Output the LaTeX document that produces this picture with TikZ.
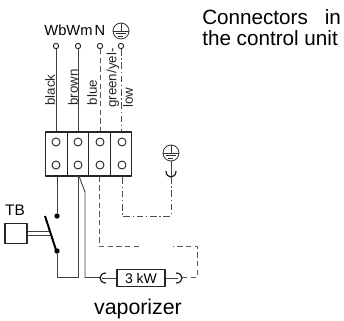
\documentclass[tikz,border=0pt]{standalone}
\usepackage{fontspec}
\setmainfont{Liberation Sans}
\tikzset{
	wire/.style={line width=0.7pt, draw=black!75},
	dashwire/.style={wire, draw=black!65, dash pattern=on 4pt off 2.5pt},
	dashdotwire/.style={wire, draw=black!70, dash pattern=on 5pt off 2pt on 1pt off 2pt},
	hook/.style={line width=0.9pt, draw=black!90},
	pin/.style={circle, draw=black!85, line width=0.7pt, fill=white, minimum size=4pt, inner sep=0pt},
	lug/.style={circle, draw=black!85, line width=0.7pt, fill=white, minimum size=6pt, inner sep=0pt},
	dot/.style={circle, fill=black, minimum size=4pt, inner sep=0pt},
	termbox/.style={draw=black!85, line width=0.8pt, minimum width=16.125pt, minimum height=33pt, inner sep=0pt},
	wirelabel/.style={rotate=90, anchor=west, font=\fontsize{10}{11}\selectfont, inner sep=0pt, text=black!85},
	earthsign/.pic={
		\draw[line width=0.6pt, black!80] (0,0) circle (8);
		\draw[line width=0.6pt, black!80] (0,-8)--(0,0) (-8,0)--(8,0) (-5,2.5)--(5,2.5) (-2.5,5)--(2.5,5);
	}
}
\begin{document}
\begin{tikzpicture}[x=0.75pt,y=-0.75pt, line join=round]
	\useasboundingbox (0,0) rectangle (344,321);
	% pins on top
	\node[pin] (p1) at (56,46) {};
	\node[pin] (p2) at (78,46) {};
	\node[pin] (p3) at (100,46) {};
	\node[pin] (p4) at (121,46) {};
	% terminal block
	\node[termbox] (t1) at (56.5,154) {};
	\node[termbox] (t2) at (78,154) {};
	\node[termbox] (t3) at (99.5,154) {};
	\node[termbox] (t4) at (121,154) {};
	\foreach \n/\x in {1/56,2/78,3/100,4/122}{
		\node[lug] (a\n) at (\x,142) {};
		\node[lug] (b\n) at (\x,165) {};
	}
	% wires to pins
	\draw[wire] (p1)--(p1|-t1.north);
	\draw[wire] (p2)--(p2|-t2.north);
	\draw[dashwire] (p3)--(p3|-t3.north);
	\draw[dashdotwire] (p4)--(p4|-t4.north);
	% labels
	\node[font=\fontsize{11}{12}\selectfont, inner sep=0pt, anchor=base] (wb) at (68.5,36) {WbWm};
	\node[font=\fontsize{11}{12}\selectfont, inner sep=0pt, anchor=base] (nn) at (100,36) {N};
	\pic at (121,31) {earthsign};
	\node[wirelabel] (lblack) at (50,106) {black};
	\node[wirelabel] (lbrown) at (73,106) {brown};
	\node[wirelabel] (lblue) at (92,105.5) {blue};
	\node[wirelabel] (lgreen) at (113,108) {green/yel-};
	\node[wirelabel] (llow) at (128,108) {low};
	\node[font=\fontsize{15.5}{15.75}\selectfont, anchor=north west, inner sep=0pt, text width=104pt, align=justify] (title) at (202,9) {Connectors in the control unit};
	% switch
	\node[draw=black!85, line width=0.8pt, minimum width=16.5pt, minimum height=15.5pt, inner sep=0pt] (tb) at (16,233.5) {};
	\node[font=\fontsize{11.5}{12}\selectfont, inner sep=0pt, anchor=base] (ltb) at (15,216) {TB};
	\node[dot] (s1) at (57,216) {};
	\node[dot] (s2) at (57,251) {};
	\coordinate (k1) at (45,216);
	\coordinate (k2) at (57,253);
	\draw[line width=1.5pt, black] (k1)--(k2);
	\draw[wire] (tb.east|-0,231.5)--(49,231.5) (tb.east|-0,235.5)--(50,235.5);
	\draw[wire] (s1|-t1.south)--(s1);
	\draw[wire] (s2)--(57,277.5)--(78.5,277.5)--(78.5,176);
	\draw[wire] (79,176)--(85,192)--(85,277.5)--(100,277.5);
	% vaporizer
	\node[draw=black!85, line width=0.8pt, minimum width=36pt, minimum height=12.5pt, inner sep=0pt, font=\fontsize{10.5}{11}\selectfont] (kw) at (141,278) {3 kW};
	\node[font=\fontsize{16}{17}\selectfont, inner sep=0pt, anchor=base] (vap) at (138,315) {vaporizer};
	\draw[hook] (106,273) .. controls (98,273) and (98,283) .. (106,283);
	\draw[wire] (102,278)--(kw.west);
	\draw[wire] (kw.east)--(178,278);
	\draw[hook] (176,273) .. controls (184,273) and (184,283) .. (176,283);
	\coordinate (c1) at (197,277.5);
	\coordinate (c2) at (197,246);
	\coordinate (c3) at (173,246);
	\draw[dashwire] (182,277.5)--(c1)--(c2)--(c3);
	\coordinate (c4) at (99,246);
	\coordinate (c5) at (141,246);
	\draw[dashwire] (c4|-t3.south)--(c4)--(c5);
	% earth
	\pic at (171,153) {earthsign};
	\draw[wire] (171,161)--(171,176);
	\draw[hook] (166,171) .. controls (166,179) and (176,179) .. (176,171);
	\coordinate (e1) at (171,216);
	\coordinate (e2) at (122,216);
	\draw[dashdotwire] (171,177)--(e1)--(e2)--(e2|-t4.south);
\end{tikzpicture}
\end{document}
